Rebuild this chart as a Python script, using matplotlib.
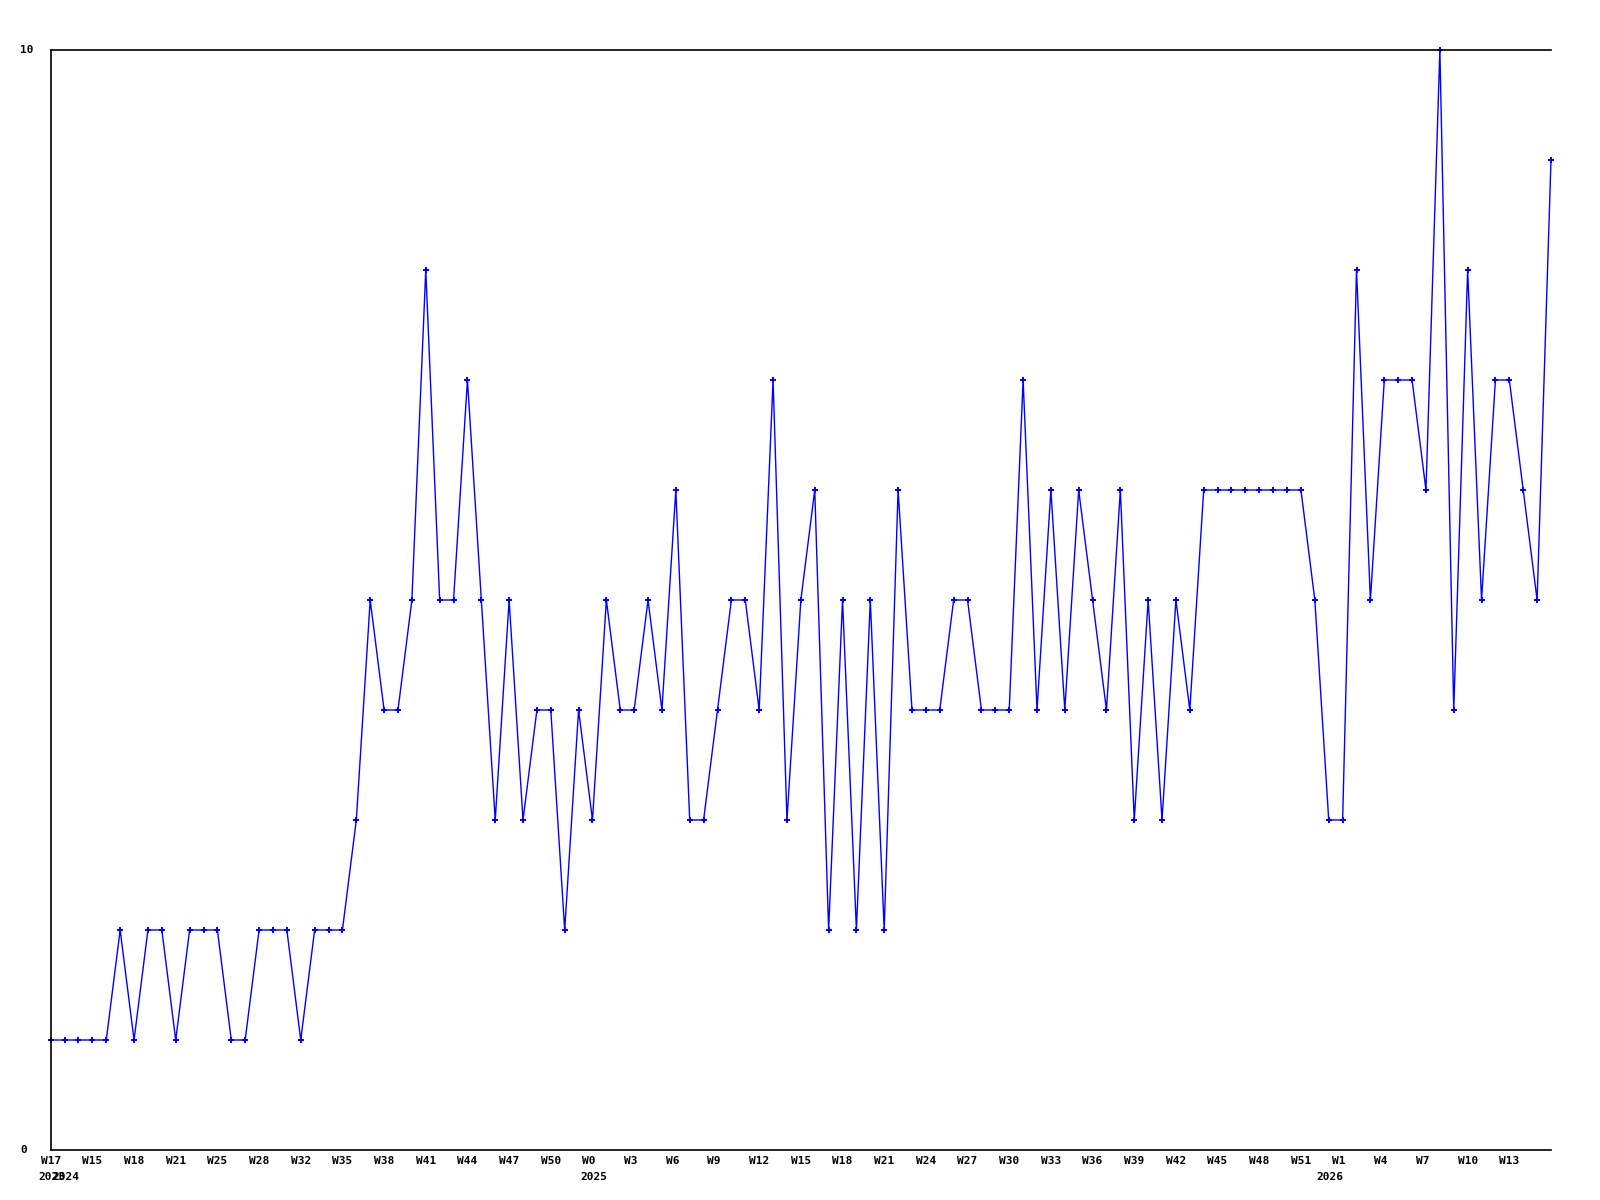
import numpy as np
from matplotlib import pyplot as plt

# weekly counts, one per week
values = [1, 1, 1, 1, 1, 2, 1, 2, 2, 1, 2, 2, 2, 1, 1, 2, 2, 2, 1, 2, 2, 2,
          3, 5, 4, 4, 5, 8, 5, 5, 7, 5, 3, 5, 3, 4, 4, 2, 4, 3, 5, 4, 4, 5,
          4, 6, 3, 3, 4, 5, 5, 4, 7, 3, 5, 6, 2, 5, 2, 5, 2, 6, 4, 4, 4, 5,
          5, 4, 4, 4, 7, 4, 6, 4, 6, 5, 4, 6, 3, 5, 3, 5, 4, 6, 6, 6, 6, 6,
          6, 6, 6, 5, 3, 3, 8, 5, 7, 7, 7, 6, 10, 4, 8, 5, 7, 7, 6, 5, 9]

week_pos = [0, 3, 6, 9, 12, 15, 18, 21, 24, 27, 30, 33, 36, 39, 42, 45, 48,
            51, 54, 57, 60, 63, 66, 69, 72, 75, 78, 81, 84, 87, 90, 93, 96,
            99, 102, 105]
week_labels = ['W17', 'W15', 'W18', 'W21', 'W25', 'W28', 'W32', 'W35', 'W38',
               'W41', 'W44', 'W47', 'W50', 'W0', 'W3', 'W6', 'W9', 'W12',
               'W15', 'W18', 'W21', 'W24', 'W27', 'W30', 'W33', 'W36', 'W39',
               'W42', 'W45', 'W48', 'W51', 'W1', 'W4', 'W7', 'W10', 'W13']
year_pos = [0, 1, 39, 92]
year_labels = ['2023', '2024', '2025', '2026']

y_labels = ['0', '10']

x = np.arange(len(values))

fig = plt.figure(figsize=(16, 12), dpi=100)
ax = fig.add_axes([50.7 / 1600, 50 / 1200, 1500.3 / 1600, 1100 / 1200])
ax.plot(x, values, color='#0000ff', linewidth=1.0, marker='P', markersize=4,
        markeredgewidth=0, clip_on=False)
ax.set_xlim(0, len(values) - 1)
ax.set_ylim(0, 10)
ax.spines['right'].set_visible(False)
for s in ['left', 'top', 'bottom']:
    ax.spines[s].set_linewidth(1.2)
ax.set_xticks([])
ax.set_yticks([])

font = dict(family='DejaVu Sans Mono', fontweight='bold', fontsize=8)
trans = ax.get_xaxis_transform()
for p, lab in zip(week_pos, week_labels):
    ax.text(p, -0.010, lab.ljust(3), ha='center', va='center', transform=trans, **font)
# years start where the week label starts
for p, lab in zip(year_pos, year_labels):
    ax.text(p - 0.87, -0.0245, lab, ha='left', va='center', transform=trans, **font)
for yv, lab in zip([0, 10], y_labels):
    fig.text(20 / 1600, 1 - (50 + (10 - yv) * 110) / 1200, lab,
             ha='left', va='center', **font)

fig.savefig('out.png', dpi=100)
